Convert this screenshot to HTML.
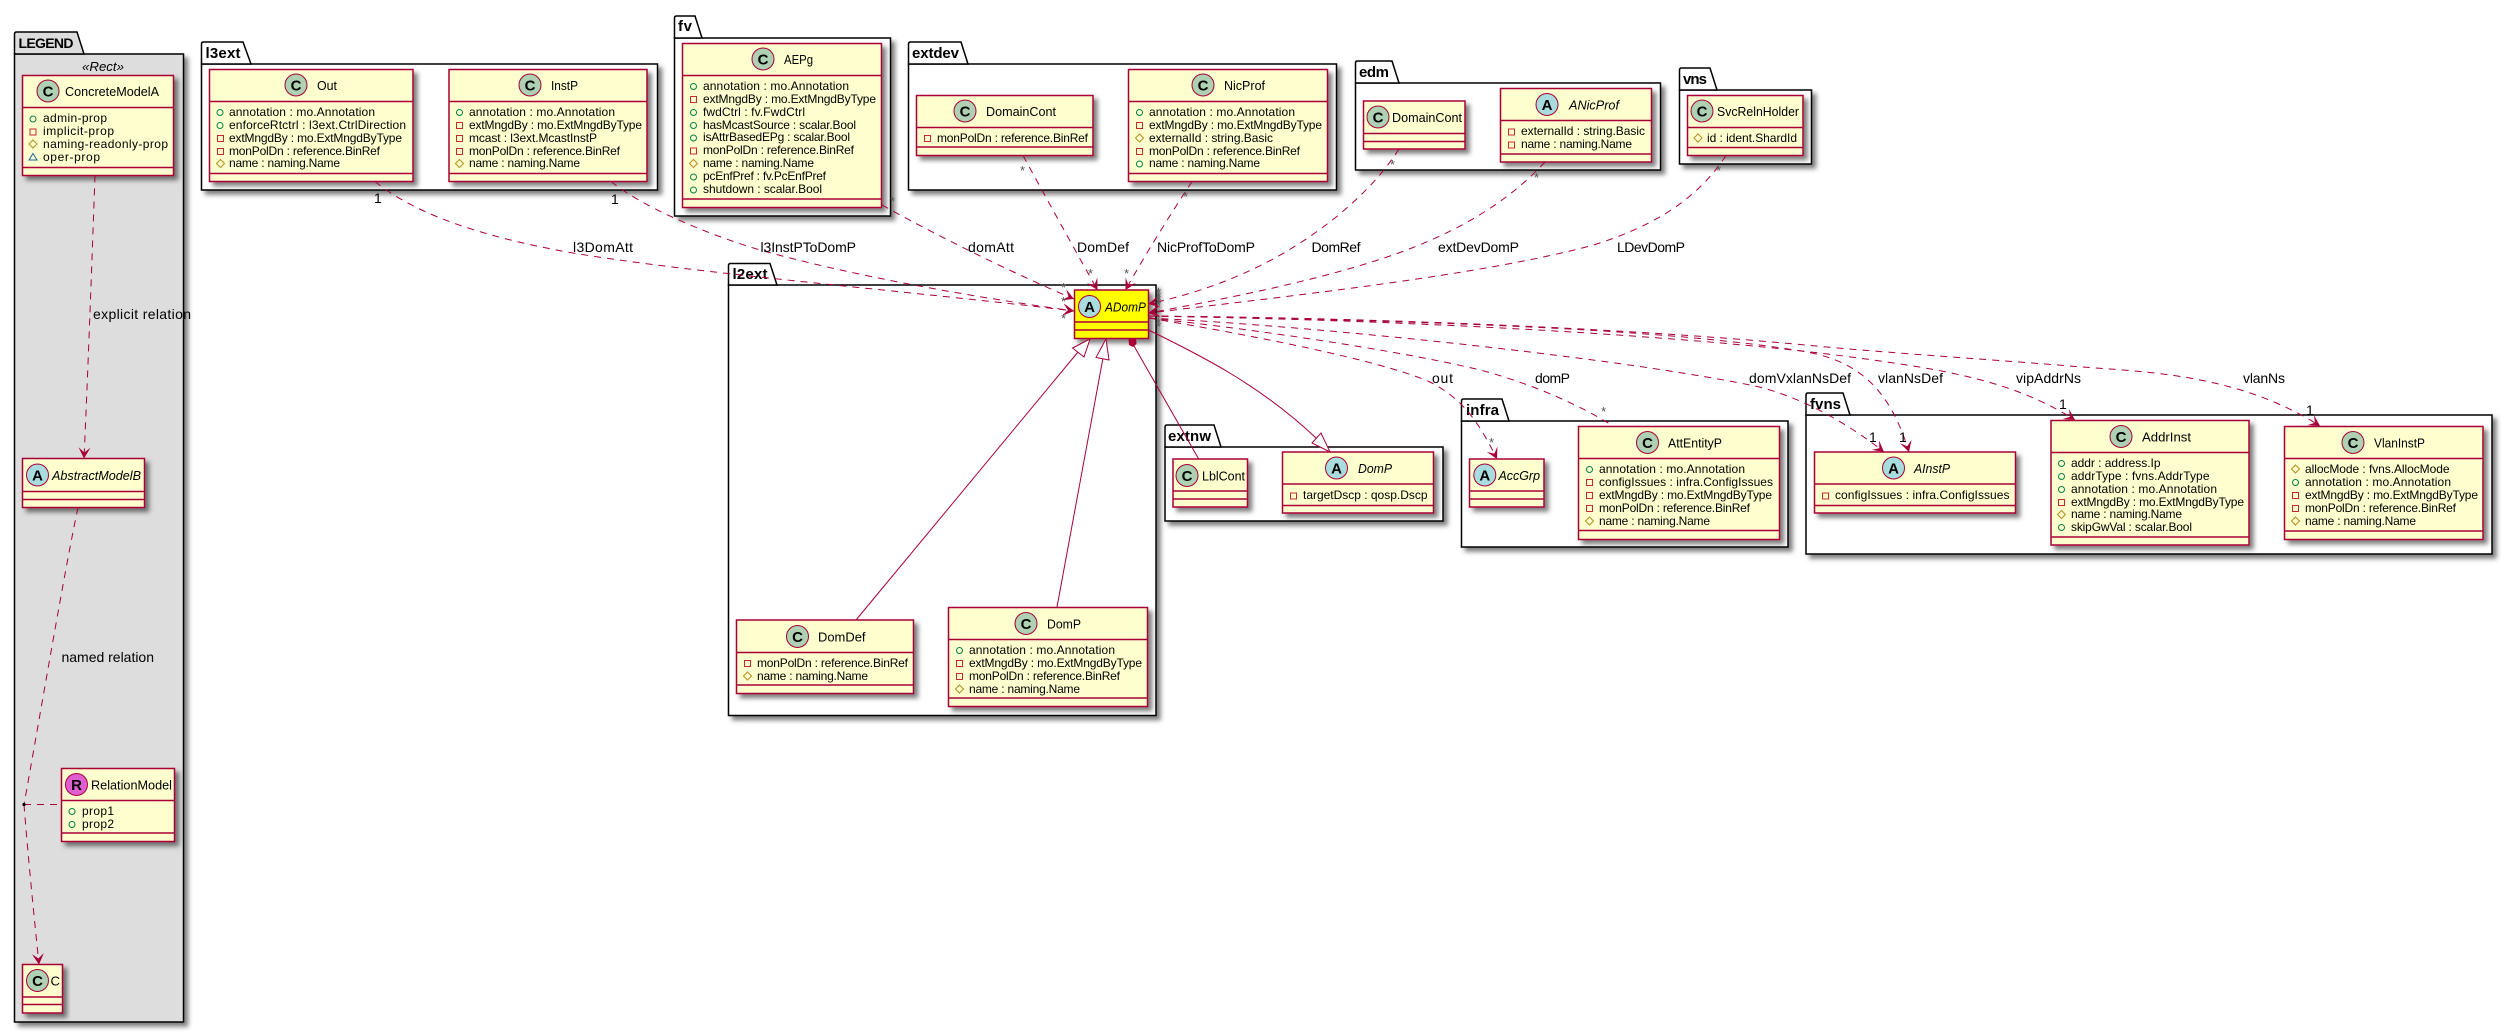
<!DOCTYPE html>
<html><head><meta charset="utf-8">
<style>
html,body{margin:0;padding:0;background:#fff}
svg{display:block}
text{font-family:"Liberation Sans",sans-serif;fill:#000}
.p{font-size:15px;font-weight:bold}
.n{font-size:13px}
.i{font-size:13px;font-style:italic}
.a{font-size:12px}
.l{font-size:14px}
.s{font-size:13px;fill:#555}
.o{font-size:14px}
.k{font-size:15px;font-weight:bold;text-anchor:middle}
.pk{stroke:#000;stroke-width:1.5;fill:#fff}
.cl{fill:#FEFECE;stroke:#A80036;stroke-width:1.5}
.sh{filter:url(#ds)}
.d{stroke:#A80036;stroke-width:1.5;fill:none}
.c{stroke:#A80036;stroke-width:1}
.e{stroke:#A80036;stroke-width:1;fill:none;stroke-dasharray:7,6}
.ar{marker-end:url(#ah)}
.ln{stroke:#A80036;stroke-width:1;fill:none}
</style></head><body>
<svg xmlns="http://www.w3.org/2000/svg" width="2513" height="1032" viewBox="0 0 2513 1032">
<defs>
<filter id="ds" x="-20%" y="-20%" width="140%" height="140%"><feDropShadow dx="4" dy="4" stdDeviation="2.5" flood-color="#000" flood-opacity="0.5"/></filter>
<marker id="ah" markerUnits="userSpaceOnUse" markerWidth="14" markerHeight="14" refX="12" refY="7" orient="auto"><path d="M12,7 L1,1 L6,7 L1,13 Z" fill="#A80036"/></marker>
<g id="P"><circle r="3" fill="none" stroke="#038048"/></g>
<g id="M"><rect x="-3" y="-3" width="6" height="6" fill="none" stroke="#C82930"/></g>
<g id="H"><path d="M0,-4 L4,0 L0,4 L-4,0 Z" fill="none" stroke="#B38D22"/></g>
<g id="T"><path d="M0,-3.5 L4,3 L-4,3 Z" fill="none" stroke="#1963A0"/></g>
</defs>

<!-- packages -->
<g>
<rect class="pk sh" style="fill:#DDD" x="14.5" y="54" width="169" height="968"/><path class="pk" style="fill:#DDD" d="M14.5,54 V34 Q14.5,32 16.5,32 H77 L84,54 Z"/>
<rect class="pk sh" x="201.5" y="64" width="456" height="126"/><path class="pk" d="M201.5,64 V44 Q201.5,42 203.5,42 H243 L251,64 Z"/>
<rect class="pk sh" x="674.5" y="38" width="216" height="178"/><path class="pk" d="M674.5,38 V18 Q674.5,16 676.5,16 H695 L702,38 Z"/>
<rect class="pk sh" x="908.5" y="64" width="428" height="126"/><path class="pk" d="M908.5,64 V44 Q908.5,42 910.5,42 H961 L968,64 Z"/>
<rect class="pk sh" x="1355.5" y="83" width="305" height="87"/><path class="pk" d="M1355.5,83 V63 Q1355.5,61 1357.5,61 H1392 L1399,83 Z"/>
<rect class="pk sh" x="1679.5" y="90" width="132" height="74"/><path class="pk" d="M1679.5,90 V70 Q1679.5,68 1681.5,68 H1710 L1717,90 Z"/>
<rect class="pk sh" x="728.5" y="285" width="427.5" height="430.5"/><path class="pk" d="M728.5,285 V265.5 Q728.5,263.5 730.5,263.5 H770 L777,285 Z"/>
<rect class="pk sh" x="1165" y="447" width="278" height="74"/><path class="pk" d="M1165,447 V427 Q1165,425 1167,425 H1214 L1221,447 Z"/>
<rect class="pk sh" x="1461.5" y="421" width="326.5" height="126"/><path class="pk" d="M1461.5,421 V401 Q1461.5,399 1463.5,399 H1502 L1509,421 Z"/>
<rect class="pk sh" x="1806" y="415" width="686" height="139"/><path class="pk" d="M1806,415 V395 Q1806,393 1808,393 H1843 L1850,415 Z"/>
</g>
<text class="p" style="font-size:14px" x="18.5" y="48" textLength="55">LEGEND</text>
<text class="p" x="205.5" y="58" textLength="35">l3ext</text>
<text class="p" x="678" y="31" textLength="14">fv</text>
<text class="p" x="912" y="58" textLength="47">extdev</text>
<text class="p" x="1359" y="77" textLength="30">edm</text>
<text class="p" x="1683" y="84" textLength="24">vns</text>
<text class="p" x="732.5" y="279" textLength="35">l2ext</text>
<text class="p" x="1168" y="441" textLength="43">extnw</text>
<text class="p" x="1466" y="415" textLength="33">infra</text>
<text class="p" x="1810" y="409" textLength="31">fvns</text>
<text class="i" x="82" y="71" textLength="42" lengthAdjust="spacingAndGlyphs">«Rect»</text>

<!-- classes: LEGEND -->
<g>
<rect class="cl sh" x="22.5" y="75.5" width="151" height="100"/><path class="d" d="M22.5,107.5H173.5M22.5,167.5H173.5"/>
<circle class="c" cx="48" cy="91" r="11" fill="#ADD1B2"/><text class="k" x="48" y="96.5">C</text>
<text class="n" x="65" y="96" textLength="94" lengthAdjust="spacingAndGlyphs">ConcreteModelA</text>
<use href="#P" x="33" y="119"/><text class="a" x="43" y="122" textLength="64">admin-prop</text>
<use href="#M" x="33" y="132"/><text class="a" x="43" y="135" textLength="71">implicit-prop</text>
<use href="#H" x="33" y="144"/><text class="a" x="43" y="148" textLength="125">naming-readonly-prop</text>
<use href="#T" x="33" y="157"/><text class="a" x="43" y="161" textLength="57">oper-prop</text>

<rect class="cl sh" x="22.5" y="458.5" width="122" height="49"/><path class="d" d="M22.5,491.5H144.5M22.5,499.5H144.5"/>
<circle class="c" cx="37.5" cy="475" r="11" fill="#A9DCDF"/><text class="k" x="37.5" y="480.5">A</text>
<text class="i" x="52" y="480" textLength="89" lengthAdjust="spacingAndGlyphs">AbstractModelB</text>

<rect class="cl sh" x="61.5" y="768.5" width="113" height="73"/><path class="d" d="M61.5,800.5H174.5M61.5,833H174.5"/>
<circle class="c" cx="76.5" cy="784.5" r="11" fill="#E05FD0"/><text class="k" x="76.5" y="790">R</text>
<text class="n" x="91" y="789.5" textLength="81" lengthAdjust="spacingAndGlyphs">RelationModel</text>
<use href="#P" x="72" y="811.5"/><text class="a" x="82" y="815" textLength="32">prop1</text>
<use href="#P" x="72" y="824.5"/><text class="a" x="82" y="828" textLength="32">prop2</text>

<rect class="cl sh" x="22.5" y="964.5" width="40" height="48.5"/><path class="d" d="M22.5,997H62.5M22.5,1004.5H62.5"/>
<circle class="c" cx="37.5" cy="980.5" r="11" fill="#ADD1B2"/><text class="k" x="37.5" y="986">C</text>
<text class="n" x="50.5" y="985.5" textLength="9">C</text>
</g>

<!-- l3ext -->
<g>
<rect class="cl sh" x="209.5" y="69.5" width="203.5" height="112"/><path class="d" d="M209.5,101.5H413M209.5,173.5H413"/>
<circle class="c" cx="296" cy="85" r="11" fill="#ADD1B2"/><text class="k" x="296" y="90.5">C</text>
<text class="n" x="317" y="90" textLength="20" lengthAdjust="spacingAndGlyphs">Out</text>
<use href="#P" x="220" y="112.5"/><text class="a" x="229" y="116" textLength="146">annotation : mo.Annotation</text>
<use href="#P" x="220" y="125.5"/><text class="a" x="229" y="129" textLength="177">enforceRtctrl : l3ext.CtrlDirection</text>
<use href="#M" x="220.5" y="138.5"/><text class="a" x="229" y="142" textLength="173">extMngdBy : mo.ExtMngdByType</text>
<use href="#M" x="220.5" y="151.5"/><text class="a" x="229" y="155" textLength="151">monPolDn : reference.BinRef</text>
<use href="#H" x="220.5" y="163.5"/><text class="a" x="229" y="167" textLength="111">name : naming.Name</text>

<rect class="cl sh" x="449" y="69.5" width="198" height="112"/><path class="d" d="M449,101.5H647M449,173.5H647"/>
<circle class="c" cx="530" cy="85" r="11" fill="#ADD1B2"/><text class="k" x="530" y="90.5">C</text>
<text class="n" x="551" y="90" textLength="27" lengthAdjust="spacingAndGlyphs">InstP</text>
<use href="#P" x="459.5" y="112.5"/><text class="a" x="469" y="116" textLength="146">annotation : mo.Annotation</text>
<use href="#M" x="459.5" y="125.5"/><text class="a" x="469" y="129" textLength="173">extMngdBy : mo.ExtMngdByType</text>
<use href="#M" x="459.5" y="138.5"/><text class="a" x="469" y="142" textLength="128">mcast : l3ext.McastInstP</text>
<use href="#M" x="459.5" y="151.5"/><text class="a" x="469" y="155" textLength="151">monPolDn : reference.BinRef</text>
<use href="#H" x="459.5" y="163.5"/><text class="a" x="469" y="167" textLength="111">name : naming.Name</text>
</g>

<!-- fv -->
<g>
<rect class="cl sh" x="682.5" y="43.5" width="199" height="164"/><path class="d" d="M682.5,75.5H881.5M682.5,199H881.5"/>
<circle class="c" cx="763" cy="59" r="11" fill="#ADD1B2"/><text class="k" x="763" y="64.5">C</text>
<text class="n" x="784" y="64" textLength="29" lengthAdjust="spacingAndGlyphs">AEPg</text>
<use href="#P" x="693.5" y="86.5"/><text class="a" x="703" y="90" textLength="146">annotation : mo.Annotation</text>
<use href="#M" x="693.5" y="99.5"/><text class="a" x="703" y="103" textLength="173">extMngdBy : mo.ExtMngdByType</text>
<use href="#P" x="693.5" y="112.5"/><text class="a" x="703" y="116" textLength="102">fwdCtrl : fv.FwdCtrl</text>
<use href="#P" x="693.5" y="125.5"/><text class="a" x="703" y="129" textLength="153">hasMcastSource : scalar.Bool</text>
<use href="#P" x="693.5" y="138"/><text class="a" x="703" y="141" textLength="147">isAttrBasedEPg : scalar.Bool</text>
<use href="#M" x="693.5" y="151"/><text class="a" x="703" y="154" textLength="151">monPolDn : reference.BinRef</text>
<use href="#H" x="693.5" y="163.5"/><text class="a" x="703" y="167" textLength="111">name : naming.Name</text>
<use href="#P" x="693.5" y="177"/><text class="a" x="703" y="180" textLength="123">pcEnfPref : fv.PcEnfPref</text>
<use href="#P" x="693.5" y="190"/><text class="a" x="703" y="193" textLength="119">shutdown : scalar.Bool</text>
</g>

<!-- extdev -->
<g>
<rect class="cl sh" x="916.5" y="95.5" width="176.5" height="60"/><path class="d" d="M916.5,127.5H1093M916.5,147H1093"/>
<circle class="c" cx="965" cy="111" r="11" fill="#ADD1B2"/><text class="k" x="965" y="116.5">C</text>
<text class="n" x="986" y="116" textLength="70" lengthAdjust="spacingAndGlyphs">DomainCont</text>
<use href="#M" x="927.5" y="138.5"/><text class="a" x="937" y="142" textLength="151">monPolDn : reference.BinRef</text>

<rect class="cl sh" x="1128.5" y="69.5" width="199" height="112"/><path class="d" d="M1128.5,101.5H1327.5M1128.5,173.5H1327.5"/>
<circle class="c" cx="1203" cy="85" r="11" fill="#ADD1B2"/><text class="k" x="1203" y="90.5">C</text>
<text class="n" x="1224" y="90" textLength="41" lengthAdjust="spacingAndGlyphs">NicProf</text>
<use href="#P" x="1139.5" y="112.5"/><text class="a" x="1149" y="116" textLength="146">annotation : mo.Annotation</text>
<use href="#M" x="1139.5" y="125.5"/><text class="a" x="1149" y="129" textLength="173">extMngdBy : mo.ExtMngdByType</text>
<use href="#H" x="1139.5" y="138"/><text class="a" x="1149" y="142" textLength="124">externalId : string.Basic</text>
<use href="#M" x="1139.5" y="151.5"/><text class="a" x="1149" y="155" textLength="151">monPolDn : reference.BinRef</text>
<use href="#P" x="1139.5" y="164"/><text class="a" x="1149" y="167" textLength="111">name : naming.Name</text>
</g>

<!-- edm -->
<g>
<rect class="cl sh" x="1363.5" y="101" width="101.5" height="48"/><path class="d" d="M1363.5,133.5H1465M1363.5,141.5H1465"/>
<circle class="c" cx="1378" cy="117" r="11" fill="#ADD1B2"/><text class="k" x="1378" y="122.5">C</text>
<text class="n" x="1392" y="122" textLength="70" lengthAdjust="spacingAndGlyphs">DomainCont</text>

<rect class="cl sh" x="1500.5" y="88.5" width="151" height="73.5"/><path class="d" d="M1500.5,120.5H1651.5M1500.5,154H1651.5"/>
<circle class="c" cx="1547" cy="104.5" r="11" fill="#A9DCDF"/><text class="k" x="1547" y="110">A</text>
<text class="i" x="1569" y="109.5" textLength="50" lengthAdjust="spacingAndGlyphs">ANicProf</text>
<use href="#M" x="1511.5" y="132"/><text class="a" x="1521" y="135" textLength="124">externalId : string.Basic</text>
<use href="#M" x="1511.5" y="145"/><text class="a" x="1521" y="148" textLength="111">name : naming.Name</text>
</g>

<!-- vns -->
<g>
<rect class="cl sh" x="1687.5" y="95.5" width="115.5" height="60"/><path class="d" d="M1687.5,127.5H1803M1687.5,147.5H1803"/>
<circle class="c" cx="1702" cy="111" r="11" fill="#ADD1B2"/><text class="k" x="1702" y="116.5">C</text>
<text class="n" x="1717" y="116" textLength="82" lengthAdjust="spacingAndGlyphs">SvcRelnHolder</text>
<use href="#H" x="1698" y="138"/><text class="a" x="1707" y="142" textLength="90">id : ident.ShardId</text>
</g>

<!-- l2ext -->
<g>
<rect class="cl sh" style="fill:#FFFF00" x="1074.5" y="290" width="74" height="48.5"/><path class="d" d="M1074.5,322H1148.5M1074.5,330H1148.5"/>
<circle class="c" cx="1089.5" cy="306.5" r="11" fill="#A9DCDF"/><text class="k" x="1089.5" y="312">A</text>
<text class="i" x="1105" y="311.5" textLength="41" lengthAdjust="spacingAndGlyphs">ADomP</text>

<rect class="cl sh" x="736.5" y="620" width="177" height="73.5"/><path class="d" d="M736.5,652.5H913.5M736.5,685H913.5"/>
<circle class="c" cx="797.5" cy="636.5" r="11" fill="#ADD1B2"/><text class="k" x="797.5" y="642">C</text>
<text class="n" x="818" y="641.5" textLength="47.5" lengthAdjust="spacingAndGlyphs">DomDef</text>
<use href="#M" x="747.5" y="663.5"/><text class="a" x="757" y="667" textLength="151">monPolDn : reference.BinRef</text>
<use href="#H" x="747.5" y="676"/><text class="a" x="757" y="680" textLength="111">name : naming.Name</text>

<rect class="cl sh" x="948.5" y="607.5" width="199" height="99"/><path class="d" d="M948.5,639.5H1147.5M948.5,698H1147.5"/>
<circle class="c" cx="1026" cy="623.5" r="11" fill="#ADD1B2"/><text class="k" x="1026" y="629">C</text>
<text class="n" x="1047" y="628.5" textLength="34" lengthAdjust="spacingAndGlyphs">DomP</text>
<use href="#P" x="959.5" y="650.5"/><text class="a" x="969" y="654" textLength="146">annotation : mo.Annotation</text>
<use href="#M" x="959.5" y="663.5"/><text class="a" x="969" y="667" textLength="173">extMngdBy : mo.ExtMngdByType</text>
<use href="#M" x="959.5" y="676.5"/><text class="a" x="969" y="680" textLength="151">monPolDn : reference.BinRef</text>
<use href="#H" x="959.5" y="689"/><text class="a" x="969" y="693" textLength="111">name : naming.Name</text>
</g>

<!-- extnw -->
<g>
<rect class="cl sh" x="1173" y="459" width="74.5" height="48"/><path class="d" d="M1173,491H1247.5M1173,499H1247.5"/>
<circle class="c" cx="1187" cy="475.5" r="11" fill="#ADD1B2"/><text class="k" x="1187" y="481">C</text>
<text class="n" x="1202" y="480.5" textLength="43" lengthAdjust="spacingAndGlyphs">LblCont</text>

<rect class="cl sh" x="1282.5" y="452" width="151" height="61"/><path class="d" d="M1282.5,484H1433.5M1282.5,505.5H1433.5"/>
<circle class="c" cx="1336.5" cy="468" r="11" fill="#A9DCDF"/><text class="k" x="1336.5" y="473.5">A</text>
<text class="i" x="1358" y="473" textLength="34" lengthAdjust="spacingAndGlyphs">DomP</text>
<use href="#M" x="1293.5" y="496"/><text class="a" x="1303" y="499" textLength="124.5">targetDscp : qosp.Dscp</text>
</g>

<!-- infra -->
<g>
<rect class="cl sh" x="1469.5" y="459" width="74.5" height="48"/><path class="d" d="M1469.5,491H1544M1469.5,499H1544"/>
<circle class="c" cx="1484.8" cy="475" r="11" fill="#A9DCDF"/><text class="k" x="1484.8" y="480.5">A</text>
<text class="i" x="1498.5" y="480" textLength="41.5" lengthAdjust="spacingAndGlyphs">AccGrp</text>

<rect class="cl sh" x="1578.5" y="426.5" width="201" height="113"/><path class="d" d="M1578.5,458.5H1779.5M1578.5,530.5H1779.5"/>
<circle class="c" cx="1647.5" cy="442.5" r="11" fill="#ADD1B2"/><text class="k" x="1647.5" y="448">C</text>
<text class="n" x="1668" y="447.5" textLength="54" lengthAdjust="spacingAndGlyphs">AttEntityP</text>
<use href="#P" x="1589.5" y="469.5"/><text class="a" x="1599" y="473" textLength="146">annotation : mo.Annotation</text>
<use href="#M" x="1589.5" y="482.5"/><text class="a" x="1599" y="486" textLength="174">configIssues : infra.ConfigIssues</text>
<use href="#M" x="1589.5" y="495.5"/><text class="a" x="1599" y="499" textLength="173">extMngdBy : mo.ExtMngdByType</text>
<use href="#M" x="1589.5" y="508.5"/><text class="a" x="1599" y="512" textLength="151">monPolDn : reference.BinRef</text>
<use href="#H" x="1589.5" y="521"/><text class="a" x="1599" y="525" textLength="111">name : naming.Name</text>
</g>

<!-- fvns -->
<g>
<rect class="cl sh" x="1814.5" y="452" width="201" height="61"/><path class="d" d="M1814.5,484H2015.5M1814.5,505.5H2015.5"/>
<circle class="c" cx="1893.5" cy="468" r="11" fill="#A9DCDF"/><text class="k" x="1893.5" y="473.5">A</text>
<text class="i" x="1914" y="473" textLength="36" lengthAdjust="spacingAndGlyphs">AInstP</text>
<use href="#M" x="1825.5" y="496"/><text class="a" x="1835" y="499" textLength="174.5">configIssues : infra.ConfigIssues</text>

<rect class="cl sh" x="2051" y="420.5" width="198" height="124.5"/><path class="d" d="M2051,452.5H2249M2051,537H2249"/>
<circle class="c" cx="2121" cy="436.5" r="11" fill="#ADD1B2"/><text class="k" x="2121" y="442">C</text>
<text class="n" x="2142" y="441.5" textLength="49" lengthAdjust="spacingAndGlyphs">AddrInst</text>
<use href="#P" x="2061.5" y="463.5"/><text class="a" x="2071" y="467" textLength="89.5">addr : address.Ip</text>
<use href="#P" x="2061.5" y="476.5"/><text class="a" x="2071" y="480" textLength="138.5">addrType : fvns.AddrType</text>
<use href="#P" x="2061.5" y="489.5"/><text class="a" x="2071" y="493" textLength="146">annotation : mo.Annotation</text>
<use href="#M" x="2061.5" y="502.5"/><text class="a" x="2071" y="506" textLength="173">extMngdBy : mo.ExtMngdByType</text>
<use href="#H" x="2061.5" y="514.5"/><text class="a" x="2071" y="518" textLength="111">name : naming.Name</text>
<use href="#P" x="2061.5" y="527.5"/><text class="a" x="2071" y="531" textLength="121">skipGwVal : scalar.Bool</text>

<rect class="cl sh" x="2284.5" y="426.5" width="198.5" height="113"/><path class="d" d="M2284.5,458.5H2483M2284.5,531H2483"/>
<circle class="c" cx="2353" cy="442.5" r="11" fill="#ADD1B2"/><text class="k" x="2353" y="448">C</text>
<text class="n" x="2374" y="447.5" textLength="51" lengthAdjust="spacingAndGlyphs">VlanInstP</text>
<use href="#H" x="2295.5" y="469"/><text class="a" x="2305" y="473" textLength="144.5">allocMode : fvns.AllocMode</text>
<use href="#P" x="2295.5" y="482.5"/><text class="a" x="2305" y="486" textLength="146">annotation : mo.Annotation</text>
<use href="#M" x="2295.5" y="495.5"/><text class="a" x="2305" y="499" textLength="173">extMngdBy : mo.ExtMngdByType</text>
<use href="#M" x="2295.5" y="508.5"/><text class="a" x="2305" y="512" textLength="151">monPolDn : reference.BinRef</text>
<use href="#H" x="2295.5" y="521"/><text class="a" x="2305" y="525" textLength="111">name : naming.Name</text>
</g>

<!-- connectors -->
<g>
<path class="e ar" d="M95,175.5 C92,260 88,370 84,458.5"/>
<path class="e" d="M78,507.5 C65,568 40,716 24,804.5"/>
<path class="e" d="M24,804.5 H61"/>
<path class="e ar" d="M24,804.5 C28,856 34,916 39,964.5"/>
<circle cx="24" cy="804.5" r="1.6" fill="#000"/>

<path class="e ar" d="M375,181.5 C410,210 470,235 573,253 C700,274 900,290 1074,311"/>
<path class="e ar" d="M611,181.5 C640,205 700,232 760,250 C850,275 960,295 1074,311"/>
<path class="e ar" d="M882,205 C930,232 1010,272 1074,299"/>
<path class="e ar" d="M1023,155.5 C1050,205 1075,250 1097.5,290"/>
<path class="e ar" d="M1192,181.5 C1170,215 1145,255 1125.5,290"/>
<path class="e ar" d="M1399,149 C1370,195 1310,245 1240,275 C1210,288 1180,297 1148.5,304"/>
<path class="e ar" d="M1545,162 C1510,200 1460,232 1390,256 C1320,280 1230,298 1148.5,313"/>
<path class="e ar" d="M1726,155.5 C1700,195 1660,225 1590,246 C1480,275 1300,295 1148.5,313"/>

<path class="e ar" d="M1148.5,318 C1250,335 1380,360 1430,382 C1465,400 1480,425 1497,459"/>
<path class="e" d="M1148.5,318 C1280,332 1420,355 1480,370 C1530,383 1580,405 1613,426"/>
<path class="e ar" d="M1148.5,318 C1300,325 1600,355 1750,385 C1800,395 1850,425 1884,452"/>
<path class="e ar" d="M1148.5,316 C1350,320 1650,325 1807,352 C1860,362 1890,390 1909,452"/>
<path class="e ar" d="M1148.5,316 C1400,320 1700,335 1873,360 C1960,372 2020,385 2075,420"/>
<path class="e ar" d="M1148.5,316 C1400,318 1650,330 1805,345 C1900,354 2000,360 2082,367 C2150,372 2240,375 2320,426"/>

<path class="ln" d="M856,620 L1078,352"/>
<path class="ln" d="M1057,607 L1103,358"/>
<polygon points="1090,339 1072.5,348 1084,357" fill="#fff" stroke="#A80036"/>
<polygon points="1106,339 1096,357.5 1109,360" fill="#fff" stroke="#A80036"/>
<path class="ln" d="M1134,346 L1198.7,459"/>
<polygon points="1128.5,339 1136,339 1136.5,344 1133,347 1129,345" fill="#A80036"/>
<path class="ln" d="M1148.5,330 C1200,355 1260,385 1316,438"/>
<polygon points="1330,452 1312,443 1321,433" fill="#fff" stroke="#A80036"/>
</g>

<!-- connector labels -->
<text class="l" x="93" y="319" textLength="98">explicit relation</text>
<text class="l" x="61.5" y="662" textLength="92.5">named relation</text>
<text class="l" x="573" y="252" textLength="60">l3DomAtt</text>
<text class="l" x="760.5" y="252" textLength="95.5">l3InstPToDomP</text>
<text class="l" x="968" y="252" textLength="46">domAtt</text>
<text class="l" x="1077" y="252" textLength="52">DomDef</text>
<text class="l" x="1157" y="252" textLength="98">NicProfToDomP</text>
<text class="l" x="1311.5" y="252" textLength="49">DomRef</text>
<text class="l" x="1438" y="252" textLength="81">extDevDomP</text>
<text class="l" x="1617" y="252" textLength="68">LDevDomP</text>
<text class="l" x="1432" y="383" textLength="21">out</text>
<text class="l" x="1535" y="383" textLength="35">domP</text>
<text class="l" x="1749" y="383" textLength="102">domVxlanNsDef</text>
<text class="l" x="1878" y="383" textLength="65">vlanNsDef</text>
<text class="l" x="2016" y="383" textLength="65">vipAddrNs</text>
<text class="l" x="2243" y="383" textLength="42">vlanNs</text>

<text class="o" x="374" y="203">1</text>
<text class="o" x="611" y="204">1</text>
<text class="o" x="1869" y="442">1</text>
<text class="o" x="1899" y="442">1</text>
<text class="o" x="2059" y="409">1</text>
<text class="o" x="2306" y="415">1</text>

<text class="s" x="1020" y="175">*</text>
<text class="s" x="890" y="206">*</text>
<text class="s" x="1088" y="278">*</text>
<text class="s" x="1124" y="278">*</text>
<text class="s" x="1061" y="292">*</text>
<text class="s" x="1061" y="306">*</text>
<text class="s" x="1061" y="323">*</text>
<text class="s" x="1183" y="201">*</text>
<text class="s" x="1390" y="169">*</text>
<text class="s" x="1534" y="182">*</text>
<text class="s" x="1716" y="175">*</text>
<text class="s" x="1156" y="297">*</text>
<text class="s" x="1156" y="301">*</text>
<text class="s" x="1156" y="304">*</text>
<text class="s" x="1156" y="307">*</text>
<text class="s" x="1156" y="310">*</text>
<text class="s" x="1156" y="327">*</text>
<text class="s" x="1156" y="331">*</text>
<text class="s" x="1601" y="416">*</text>
<text class="s" x="1489" y="447">*</text>
</svg>
</body></html>
